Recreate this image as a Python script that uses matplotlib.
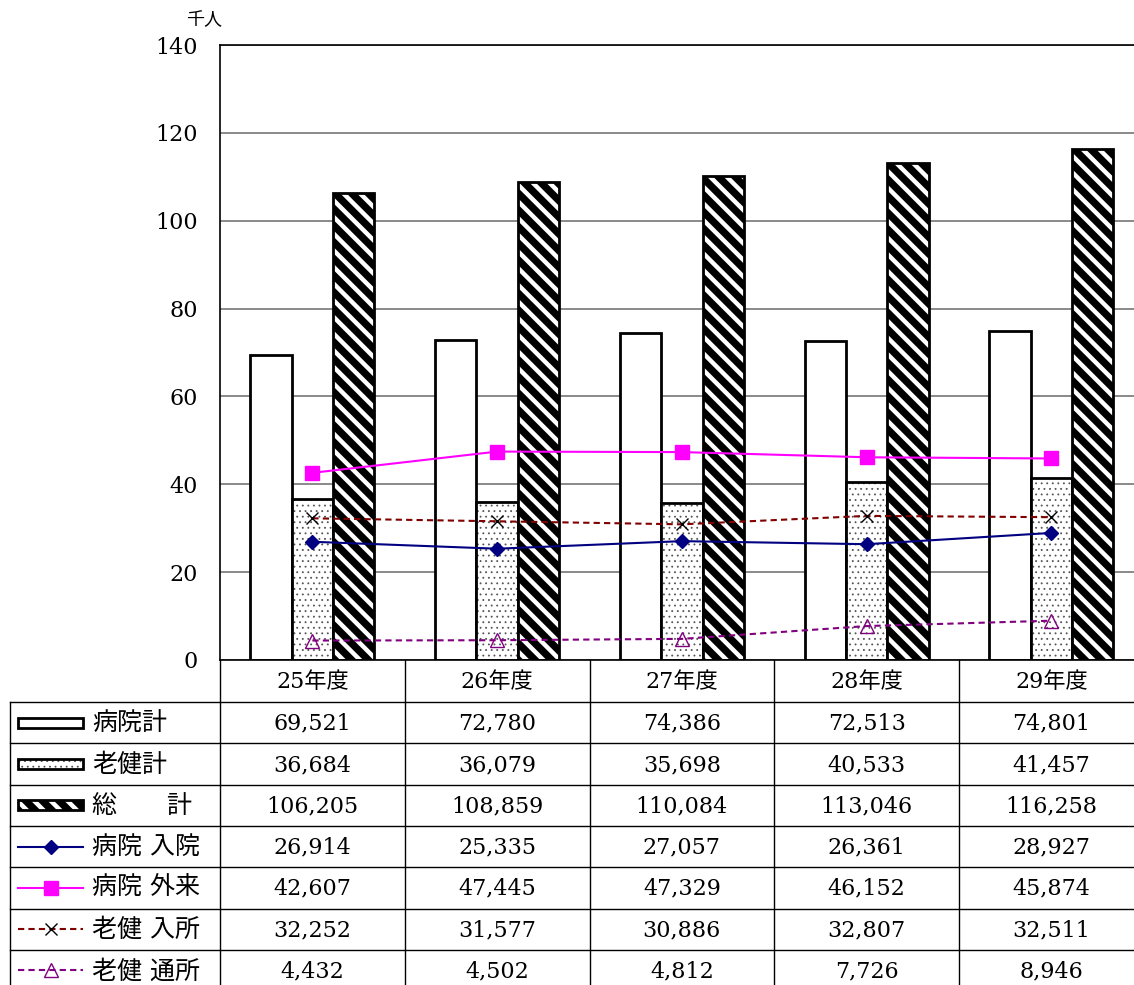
import matplotlib.pyplot as plt
import numpy as np

plt.rcParams['font.family'] = ['DejaVu Serif', 'Noto Sans CJK JP']

# ===== データ =====
years = ["25年度", "26年度", "27年度", "28年度", "29年度"]
hosp_total = [69521, 72780, 74386, 72513, 74801]
roken_total = [36684, 36079, 35698, 40533, 41457]
grand_total = [106205, 108859, 110084, 113046, 116258]
hosp_in = [26914, 25335, 27057, 26361, 28927]
hosp_out = [42607, 47445, 47329, 46152, 45874]
roken_in = [32252, 31577, 30886, 32807, 32511]
roken_day = [4432, 4502, 4812, 7726, 8946]

row_labels = ["病院計", "老健計", "総　　計", "病院 入院", "病院 外来", "老健 入所", "老健 通所"]
rows = [hosp_total, roken_total, grand_total, hosp_in, hosp_out, roken_in, roken_day]

W, H = 1134, 985
FS = 16

fig = plt.figure(figsize=(W / 100, H / 100), dpi=100)

# ===== グラフ部分 =====
col_w = 184.75
ax = fig.add_axes([220 / W, (H - 660) / H, 5 * col_w / W, 615 / H])
ax.set_xlim(-0.5, 4.5)
ax.set_ylim(0, 140)
ax.set_yticks(range(0, 141, 20))
ax.set_xticks([])
ax.tick_params(axis='y', length=0, pad=16, labelsize=FS)
ax.yaxis.grid(True, color='#808080', linewidth=1.3)
ax.set_axisbelow(True)
for s in ax.spines.values():
    s.set_linewidth(1.2)
    s.set_color('black')

x = np.arange(len(years))
bw = 0.224
ht = np.array(hosp_total) / 1000
rt = np.array(roken_total) / 1000
gt = np.array(grand_total) / 1000


def draw_bar_style(axis, kind, xs, ys, w, bottom=0, lw=2.0, zorder=2):
    if kind == "white":
        axis.bar(xs, ys, w, bottom=bottom, color='white', edgecolor='black', linewidth=lw, zorder=zorder)
    elif kind == "dots":
        with plt.rc_context({'hatch.linewidth': 0.6}):
            axis.bar(xs, ys, w, bottom=bottom, color='white', edgecolor='#555555', hatch='...', linewidth=0, zorder=zorder)
        axis.bar(xs, ys, w, bottom=bottom, fill=False, edgecolor='black', linewidth=lw, zorder=zorder)
    else:
        with plt.rc_context({'hatch.linewidth': 3.2}):
            axis.bar(xs, ys, w, bottom=bottom, color='black', edgecolor='white', hatch='\\\\', linewidth=0, zorder=zorder)
        axis.bar(xs, ys, w, bottom=bottom, fill=False, edgecolor='black', linewidth=lw, zorder=zorder)


draw_bar_style(ax, "white", x - bw, ht, bw)
draw_bar_style(ax, "dots", x, rt, bw)
draw_bar_style(ax, "stripe", x + bw, gt, bw)

line_styles = [
    dict(color='#000080', linestyle='-', marker='D', markersize=7, markerfacecolor='#000080', markeredgecolor='#000080'),
    dict(color='#FF00FF', linestyle='-', marker='s', markersize=10, markerfacecolor='#FF00FF', markeredgecolor='#FF00FF'),
    dict(color='#800000', linestyle=(0, (3, 2)), marker='x', markersize=9, markeredgecolor='black', markeredgewidth=1),
    dict(color='#800080', linestyle=(0, (3, 2)), marker='^', markersize=10, markerfacecolor='none', markeredgecolor='#800080', markeredgewidth=1),
]
line_data = [hosp_in, hosp_out, roken_in, roken_day]
for vals, st in zip(line_data, line_styles):
    ax.plot(x, np.array(vals) / 1000, linewidth=1.5, zorder=4, **st)

fig.text(204 / W, (H - 20) / H, "千人", fontsize=13, ha='center', va='center',
         family=['Noto Sans CJK JP'])

# ===== データ表 =====
tax = fig.add_axes([0, 0, 1, (H - 660) / H])
tax.set_xlim(0, W)
tax.set_ylim(H, 660)
tax.axis('off')

cx = [220 + col_w * i for i in range(6)]
head_top, head_bot = 660, 702
row_h = 41.3
tbl_bot = head_bot + row_h * len(rows)
lk = dict(color='black', linewidth=1.0)

for c in cx[:5]:
    tax.plot([c, c], [head_top, tbl_bot], **lk)
tax.plot([10, 10], [head_bot, tbl_bot], **lk)
for k in range(len(rows) + 1):
    yy = head_bot + k * row_h
    tax.plot([10, cx[5]], [yy, yy], **lk)

for i, yr in enumerate(years):
    tax.text((cx[i] + cx[i + 1]) / 2, (head_top + head_bot) / 2 + 1, yr,
             ha='center', va='center', fontsize=FS)

for r, (lab, vals) in enumerate(zip(row_labels, rows)):
    yc = head_bot + row_h * (r + 0.5)
    tax.text(92, yc + 1, lab, ha='left', va='center', fontsize=18)
    for i, v in enumerate(vals):
        tax.text((cx[i] + cx[i + 1]) / 2, yc + 1, f"{v:,}", ha='center', va='center', fontsize=FS)

# 凡例記号
sym_x0, sym_x1 = 18, 83
for r, kind in enumerate(["white", "dots", "stripe"]):
    yc = head_bot + row_h * (r + 0.5)
    draw_bar_style(tax, kind, [(sym_x0 + sym_x1) / 2], [10], sym_x1 - sym_x0, bottom=yc - 5, lw=2.0)
for r, st in enumerate(line_styles):
    yc = head_bot + row_h * (r + 3.5)
    tax.plot([sym_x0, sym_x1], [yc, yc], linewidth=1.5,
             **{k: v for k, v in st.items() if not k.startswith('marker')})
    tax.plot([(sym_x0 + sym_x1) / 2], [yc], linestyle='none',
             **{k: v for k, v in st.items() if k.startswith('marker')})

fig.savefig("out.png", dpi=100)
plt.close(fig)
